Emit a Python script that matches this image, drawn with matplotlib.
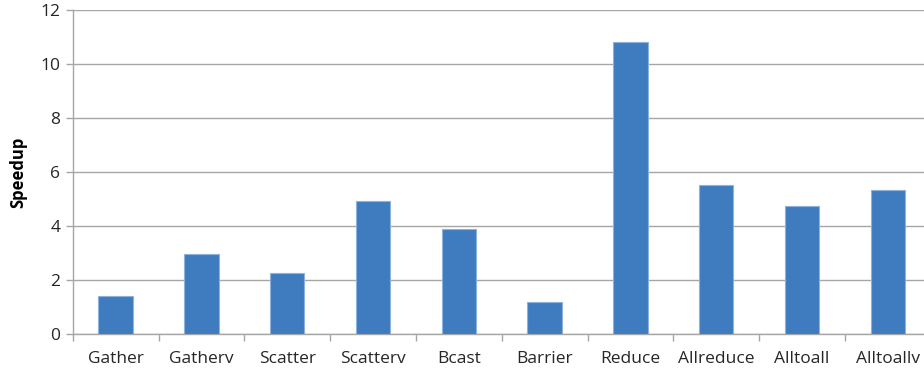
import matplotlib
matplotlib.use("Agg")
import matplotlib.pyplot as plt
import numpy as np

# MPI collective speedups
operations = ["Gather", "Gatherv", "Scatter", "Scatterv", "Bcast", "Barrier",
              "Reduce", "Allreduce", "Alltoall", "Alltoallv"]
speedup = [1.41, 2.96, 2.27, 4.94, 3.89, 1.19, 10.83, 5.51, 4.73, 5.35]
y_ticks = [0, 2, 4, 6, 8, 10, 12]

BAR_COLOR = "#3f7cbf"
GRID_COLOR = "#a6a6a6"
TEXT_COLOR = "#262626"

plt.rcParams["font.family"] = ["Open Sans", "DejaVu Sans"]

fig = plt.figure(figsize=(9.24, 3.75), dpi=100)
# plot area runs slightly past the right edge of the canvas
ax = fig.add_axes([72.7 / 924, 41 / 375, 858 / 924, 324 / 375])

x = np.arange(len(operations))
ax.bar(x, speedup, width=0.40, color=BAR_COLOR, edgecolor="#8db3dd",
       linewidth=0.8, zorder=3)

ax.set_xlim(-0.5, len(operations) - 0.5)
ax.set_ylim(0, 12)
ax.set_yticks(y_ticks)
ax.yaxis.grid(True, color=GRID_COLOR, linewidth=1.0, zorder=0)

ax.set_xticks(x)
ax.set_xticklabels(operations, fontsize=12.5, color=TEXT_COLOR)
ax.tick_params(axis="x", which="major", length=0, pad=12)
ax.set_xticks(np.arange(-0.5, len(operations), 1.0), minor=True)
ax.tick_params(axis="x", which="minor", length=5, color=GRID_COLOR, width=1.0)
ax.tick_params(axis="y", length=5, color=GRID_COLOR, width=1.0,
               labelsize=12.5, labelcolor=TEXT_COLOR, pad=4)

for side in ("top", "right"):
    ax.spines[side].set_visible(False)
for side in ("left", "bottom"):
    ax.spines[side].set_color(GRID_COLOR)
    ax.spines[side].set_linewidth(1.0)

ax.set_ylabel("Speedup", fontsize=12, fontweight="bold", color="black", labelpad=9)

fig.savefig("out.png", dpi=100)
